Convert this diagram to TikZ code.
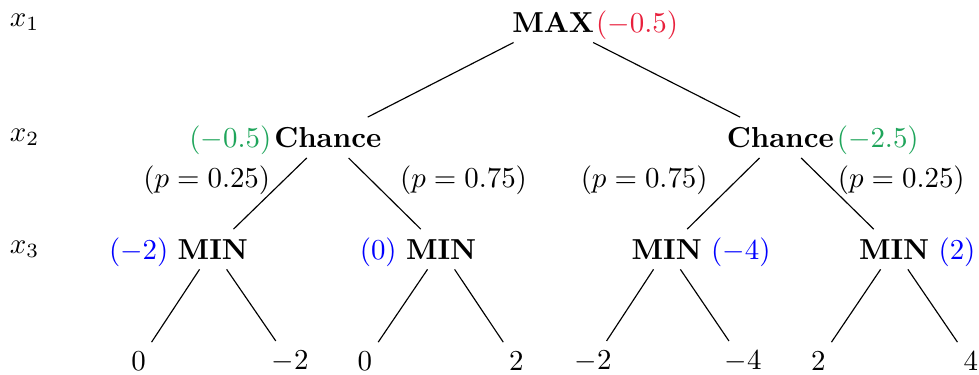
\documentclass[tikz,border=0pt]{standalone}
\usetikzlibrary{positioning}
\definecolor{ink}{HTML}{000000}
\definecolor{maxred}{HTML}{E8203C}
\definecolor{chgreen}{HTML}{1FA55B}
\definecolor{minblue}{HTML}{0000FF}

\begin{document}
\begin{tikzpicture}[
    line width=0.4pt, color=ink,
    player/.style={font=\bfseries, text=ink},
    leaf/.style={text=ink},
    depth/.style={text=ink},
    prob/.style={anchor=base, text=ink},
    val/.style={inner sep=0pt}]
  % fixed canvas, same proportions as the reference
  \path[use as bounding box] (0,0) rectangle (11.91,4.55);

  % ================= depth labels =================
  \node[depth] (d1) at (0.30,4.280) {$x_1$};
  \node[depth] (d2) at (0.30,2.877) {$x_2$};
  \node[depth] (d3) at (0.30,1.518) {$x_3$};

  % ================= MAX and chance level =================
  \node[player] (max) at (6.730,4.280) {MAX};
  \node[val, text=maxred, base right=-3.0pt of max] (maxv) {$(-0.5)$};

  \node[player] (chl) at (3.988,2.877) {Chance};
  \node[val, text=chgreen, base left=-2.7pt of chl] (chlv) {$(-0.5)$};
  \node[player] (chr) at (9.493,2.877) {Chance};
  \node[val, text=chgreen, base right=-2.7pt of chr] (chrv) {$(-2.5)$};

  % ================= MIN level =================
  \node[player] (m1) at (2.589,1.518) {MIN};
  \node[val, text=minblue, base left=-0.5pt of m1] (m1v) {$(-2)$};
  \node[player] (m2) at (5.367,1.518) {MIN};
  \node[val, text=minblue, base left=-0.5pt of m2] (m2v) {$(0)$};
  \node[player] (m3) at (8.111,1.518) {MIN};
  \node[val, text=minblue, base right=-0.5pt of m3] (m3v) {$(-4)$};
  \node[player] (m4) at (10.878,1.518) {MIN};
  \node[val, text=minblue, base right=-0.5pt of m4] (m4v) {$(2)$};

  % ================= leaves =================
  \foreach \n/\x/\v in {1/1.687/0, 2/3.528/-2, 3/4.440/0, 4/6.281/2,
                        5/7.214/-2, 6/9.039/-4, 7/9.955/2, 8/11.810/4}
    \node[leaf] (l\n) at (\x,0.150) {$\v$};

  % ================= edges =================
  \foreach \a/\b in {max/chl, max/chr, chl/m1, chl/m2, chr/m3, chr/m4,
                     m1/l1, m1/l2, m2/l3, m2/l4, m3/l5, m3/l6, m4/l7, m4/l8}
    \draw (\a) -- (\b);

  % ================= chance probabilities =================
  \node[prob] (p1) at (2.515,2.275) {$(p=0.25)$};
  \node[prob] (p2) at (5.639,2.275) {$(p=0.75)$};
  \node[prob] (p3) at (7.837,2.275) {$(p=0.75)$};
  \node[prob] (p4) at (10.964,2.275) {$(p=0.25)$};
\end{tikzpicture}
\end{document}
